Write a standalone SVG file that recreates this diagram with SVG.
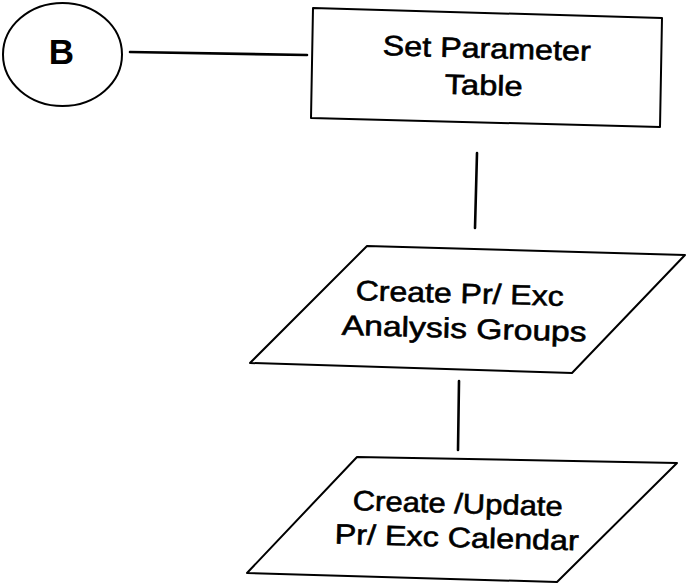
<svg xmlns="http://www.w3.org/2000/svg" width="687" height="585" viewBox="0 0 687 585">
  <style>
    .shape { fill: #ffffff; stroke: #000000; stroke-width: 2; stroke-linejoin: round; }
    .edge { fill: none; stroke: #000000; stroke-width: 2.6; stroke-linecap: round; }
    .label { font-family: "Liberation Sans", Arial, sans-serif; font-size: 28px; fill: #000000; stroke: #000000; stroke-width: 0.6; text-anchor: middle; }
    .conn { font-family: "Liberation Sans", Arial, sans-serif; font-size: 35px; font-weight: bold; fill: #000000; text-anchor: middle; }
  </style>
  <rect width="687" height="585" fill="#ffffff"/>

  <!-- connectors -->
  <g id="connectors">
    <line class="edge" x1="130" y1="52" x2="307" y2="55"/>
    <line class="edge" x1="477" y1="153" x2="475" y2="228"/>
    <line class="edge" x1="459" y1="381" x2="458" y2="450"/>
  </g>

  <!-- off-page connector B -->
  <g id="connector-b">
    <ellipse class="shape" cx="62.5" cy="54.5" rx="59.5" ry="51.5" stroke-width="1.6"/>
    <text class="conn" x="61.5" y="63.5">B</text>
  </g>

  <!-- process box -->
  <g id="set-parameter-table">
    <polygon class="shape" points="313,8 662,18 660,127 311,118"/>
    <g transform="rotate(1.6 486 75)">
      <text class="label" x="486" y="58" textLength="208" lengthAdjust="spacingAndGlyphs">Set Parameter</text>
      <text class="label" x="484" y="95" textLength="78" lengthAdjust="spacingAndGlyphs">Table</text>
    </g>
  </g>

  <!-- data step: analysis groups -->
  <g id="create-analysis-groups">
    <polygon class="shape" points="367,246 685,255 572,373 250,363"/>
    <g transform="rotate(1.6 462 318)">
      <text class="label" x="459" y="303" textLength="208" lengthAdjust="spacingAndGlyphs">Create Pr/ Exc</text>
      <text class="label" x="464.5" y="338" textLength="245" lengthAdjust="spacingAndGlyphs">Analysis Groups</text>
    </g>
  </g>

  <!-- data step: calendar -->
  <g id="create-update-calendar">
    <polygon class="shape" points="357,457 677,463 557,582 247,573"/>
    <g transform="rotate(1.6 457 530)">
      <text class="label" x="457" y="513" textLength="210" lengthAdjust="spacingAndGlyphs">Create /Update</text>
      <text class="label" x="457" y="547" textLength="244" lengthAdjust="spacingAndGlyphs">Pr/ Exc Calendar</text>
    </g>
  </g>
</svg>
